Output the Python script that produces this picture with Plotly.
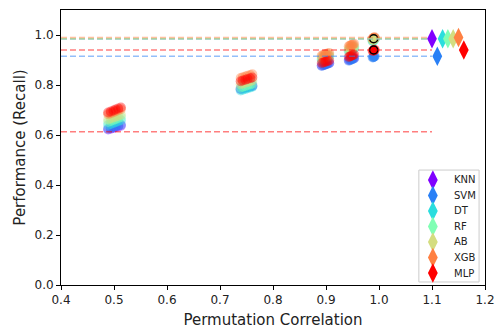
import plotly.graph_objects as go

MODELS = ["KNN", "SVM", "DT", "RF", "AB", "XGB", "MLP"]
COLORS = ["#8000ff", "#2a80f6", "#2addde", "#80ffb4", "#d4dd80", "#ff8042", "#ff0000"]

# permutation correlation of each repeat (5 levels x 6 repeats)
X_PERM = [0.489, 0.494, 0.499, 0.503, 0.508, 0.513,
          0.739, 0.743, 0.748, 0.752, 0.757, 0.761,
          0.892, 0.895, 0.898, 0.900, 0.903, 0.906,
          0.943, 0.945, 0.947, 0.949, 0.951, 0.953,
          0.988, 0.989, 0.990, 0.990, 0.991, 0.992]

KNN_Y = [0.622, 0.625, 0.628, 0.631, 0.634, 0.637,
         0.785, 0.788, 0.790, 0.792, 0.795, 0.797,
         0.878, 0.880, 0.882, 0.884, 0.886, 0.888,
         0.900, 0.902, 0.904, 0.905, 0.907, 0.908,
         0.982, 0.983, 0.984, 0.985, 0.986, 0.987]
SVM_Y = [0.625, 0.628, 0.632, 0.635, 0.638, 0.641,
         0.783, 0.786, 0.789, 0.791, 0.794, 0.796,
         0.876, 0.879, 0.881, 0.883, 0.885, 0.887,
         0.897, 0.899, 0.901, 0.903, 0.905, 0.906,
         0.910, 0.911, 0.912, 0.913, 0.914, 0.915]
DT_Y = [0.640, 0.644, 0.648, 0.651, 0.655, 0.659,
        0.778, 0.781, 0.784, 0.787, 0.790, 0.793,
        0.900, 0.903, 0.906, 0.908, 0.911, 0.913,
        0.935, 0.938, 0.940, 0.942, 0.944, 0.946,
        0.975, 0.977, 0.979, 0.981, 0.983, 0.985]
RF_Y = [0.652, 0.656, 0.660, 0.663, 0.667, 0.671,
        0.790, 0.793, 0.796, 0.799, 0.802, 0.805,
        0.905, 0.908, 0.910, 0.912, 0.915, 0.917,
        0.940, 0.942, 0.944, 0.946, 0.948, 0.950,
        0.978, 0.980, 0.981, 0.983, 0.985, 0.986]
AB_Y = [0.662, 0.666, 0.670, 0.673, 0.677, 0.681,
        0.803, 0.806, 0.809, 0.812, 0.815, 0.818,
        0.912, 0.914, 0.916, 0.918, 0.920, 0.922,
        0.945, 0.947, 0.949, 0.951, 0.953, 0.955,
        0.980, 0.981, 0.983, 0.984, 0.986, 0.987]
XGB_Y = [0.683, 0.687, 0.691, 0.695, 0.699, 0.703,
         0.828, 0.831, 0.834, 0.837, 0.840, 0.843,
         0.918, 0.920, 0.922, 0.924, 0.926, 0.928,
         0.955, 0.957, 0.959, 0.961, 0.963, 0.965,
         0.986, 0.987, 0.988, 0.989, 0.990, 0.991]
MLP_Y = [0.690, 0.694, 0.698, 0.702, 0.706, 0.710,
         0.815, 0.818, 0.821, 0.824, 0.827, 0.830,
         0.888, 0.890, 0.892, 0.894, 0.896, 0.898,
         0.912, 0.914, 0.916, 0.918, 0.920, 0.922,
         0.936, 0.937, 0.938, 0.939, 0.940, 0.941]
ALL_Y = [KNN_Y, SVM_Y, DT_Y, RF_Y, AB_Y, XGB_Y, MLP_Y]

# performance on the original (unpermuted) data
BASELINE = [0.985, 0.915, 0.985, 0.985, 0.985, 0.99, 0.94]
DIAMOND_X = [1.10, 1.11, 1.12, 1.13, 1.14, 1.15, 1.16]
LINE_START, LINE_END = 0.4, 1.1
LOW_LINE = 0.613  # red reference line
HILITE_X = [0.99, 0.99]
HILITE_Y = [0.985, 0.94]
HILITE_FILL = ["#d4dd80", "#ff0000"]

fig = go.Figure()

for m, c, ys in zip(MODELS, COLORS, ALL_Y):
    fig.add_trace(go.Scatter(
        x=X_PERM, y=ys, mode="markers", showlegend=False,
        marker=dict(symbol="circle", size=10, color=c, opacity=0.4, line=dict(width=0)),
        hoverinfo="skip"))

fig.add_trace(go.Scatter(
    x=HILITE_X, y=HILITE_Y, mode="markers", showlegend=False,
    marker=dict(symbol="circle", size=8, color=HILITE_FILL, line=dict(color="black", width=1.5))))

for m, c, b in zip(MODELS, COLORS, BASELINE):
    fig.add_trace(go.Scatter(
        x=[LINE_START, LINE_END], y=[b, b], mode="lines", showlegend=False,
        line=dict(color=c, width=1.5, dash="6px,3px"), opacity=0.5))

fig.add_trace(go.Scatter(
    x=[LINE_START, LINE_END], y=[LOW_LINE, LOW_LINE], mode="lines", showlegend=False,
    line=dict(color="#ff0000", width=1.5, dash="6px,3px"), opacity=0.5))

for m, c, b, dx in zip(MODELS, COLORS, BASELINE, DIAMOND_X):
    fig.add_trace(go.Scatter(
        x=[dx], y=[b], mode="markers", name=m, showlegend=False,
        marker=dict(symbol="diamond-tall", size=14, color=c, line=dict(width=0))))

# ---- compact legend (box, diamond keys on an overlay axis, text labels) ----
LEG_X0, LEG_X1, LEG_Y0, LEG_Y1 = 0.844, 0.986, 0.011, 0.418
LEG_KEY_X, LEG_TEXT_X = 0.877, 0.922
LEG_TOP_ROW, LEG_STEP = 0.382, 0.0564
fig.add_shape(type="rect", xref="x domain", yref="y domain",
              x0=LEG_X0, x1=LEG_X1, y0=LEG_Y0, y1=LEG_Y1,
              line=dict(color="#cccccc", width=1), fillcolor="white",
              layer="below")
rows = [LEG_TOP_ROW - i * LEG_STEP for i in range(len(MODELS))]
fig.add_trace(go.Scatter(
    x=[LEG_KEY_X] * len(MODELS), y=rows, xaxis="x2", yaxis="y2",
    mode="markers", showlegend=False, hoverinfo="skip",
    marker=dict(symbol="diamond-tall", size=14, color=COLORS, line=dict(width=0))))
for m, r in zip(MODELS, rows):
    fig.add_annotation(x=LEG_TEXT_X, y=r, xref="x domain", yref="y domain",
                       text=m, showarrow=False, xanchor="left", yanchor="middle",
                       font=dict(size=10, color="#222"))

axis_common = dict(showline=True, linecolor="black", linewidth=1, mirror=True,
                   ticks="outside", ticklen=4, tickcolor="black", showgrid=False,
                   zeroline=False, automargin=False, tickfont=dict(size=12, color="#222"))

fig.update_layout(
    width=496, height=331,
    margin=dict(l=61, r=11, t=10, b=46),
    paper_bgcolor="white", plot_bgcolor="white",
    font=dict(family="DejaVu Sans", color="#222"),
    showlegend=False,
    xaxis=dict(range=[0.4, 1.2], dtick=0.1, tickformat=".1f",
               title=dict(text="Permutation Correlation", font=dict(size=15), standoff=8),
               **axis_common),
    yaxis=dict(range=[0, 1.1], tickvals=[0, 0.2, 0.4, 0.6, 0.8, 1.0], tickformat=".1f",
               title=dict(text="Performance (Recall)", font=dict(size=15), standoff=5),
               **axis_common),
    xaxis2=dict(overlaying="x", range=[0, 1], visible=False, fixedrange=True),
    yaxis2=dict(overlaying="y", range=[0, 1], visible=False, fixedrange=True),
)

fig.write_html("out.html")
